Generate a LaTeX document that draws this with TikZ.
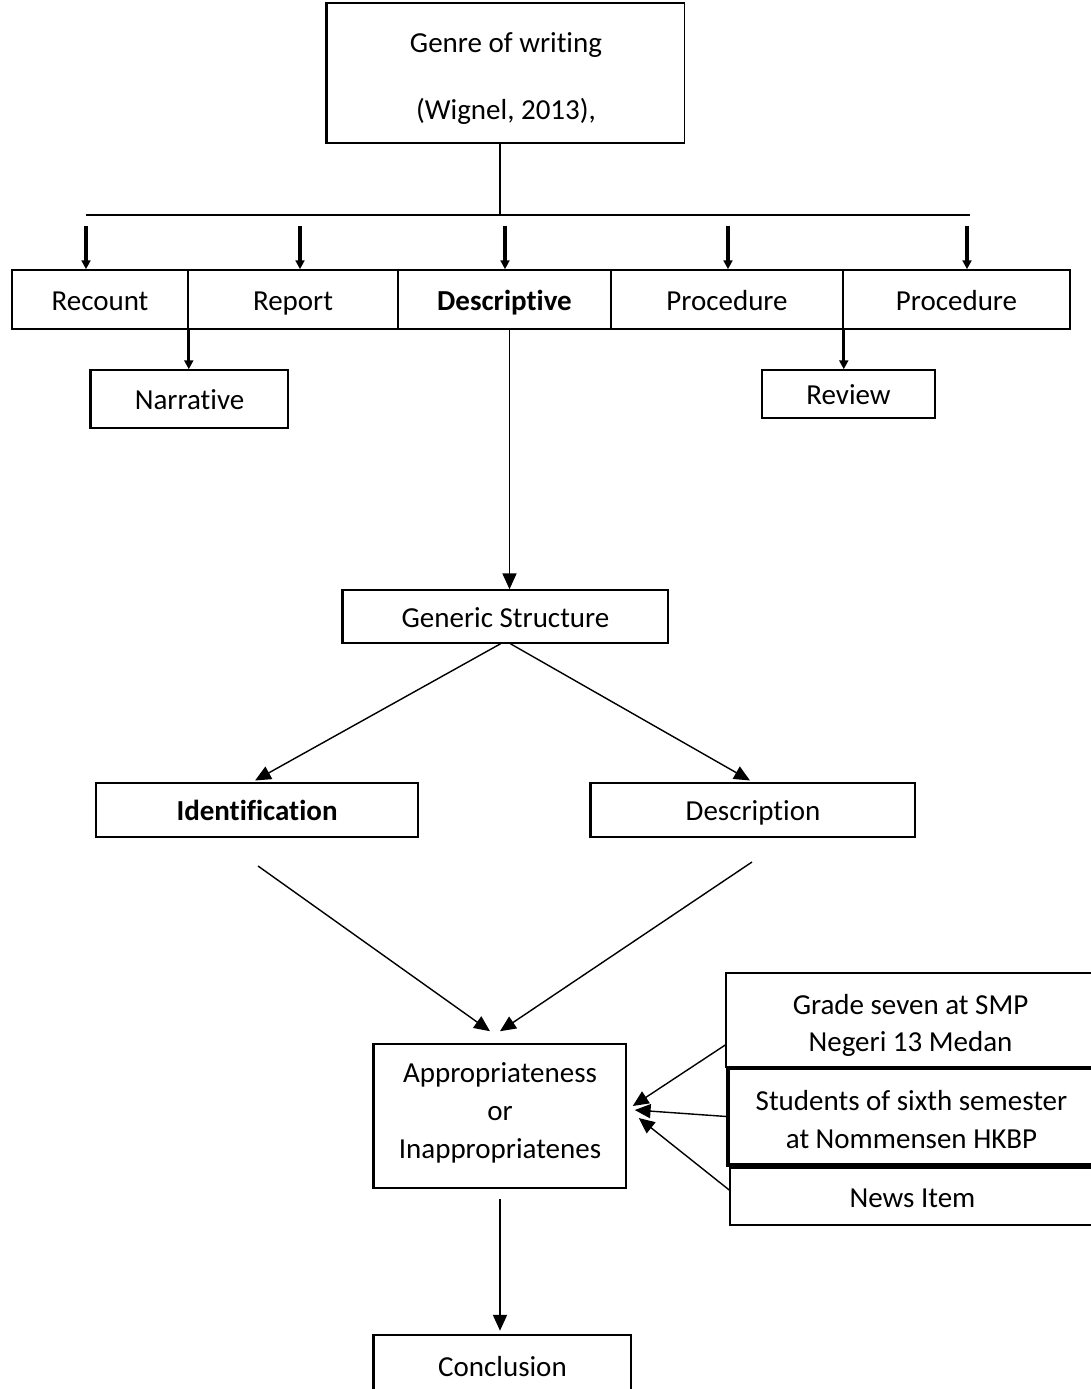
\documentclass[tikz,border=0pt]{standalone}
\usepackage{fontspec}
\setmainfont{Carlito}[Ligatures=NoCommon]
\usetikzlibrary{arrows.meta}

\newcommand{\lowtext}[1]{\raisebox{-0.11cm}[\height][\depth]{\begin{tabular}{@{}c@{}}#1\end{tabular}}}

\tikzset{
  box/.style={draw, line width=0.9pt, inner sep=0pt, align=center,
    font=\fontsize{16.5}{21.5}\selectfont,
    execute at begin node={\rule[-6.45pt]{0pt}{24.9pt}}},
  heavy/.style={line width=1.8pt},
  arr/.style={-{Triangle[width=8pt,length=9pt]}, line width=0.8pt},
  tick/.style={-{Triangle[width=5pt,length=5pt]}, line width=1.8pt},
}

\begin{document}
\begin{tikzpicture}[x=0.02cm,y=-0.02cm]
\useasboundingbox (0,0) rectangle (1090,1389);

% top
\node[box, minimum width=7.14cm, minimum height=2.8cm] (genre) at (506,73)
  {\lowtext{Genre of writing\\[0.6cm](Wignel, 2013),}};
\coordinate (barL) at (86,215);
\coordinate (barR) at (970,215);

% genres
\node[box, minimum width=3.52cm, minimum height=1.18cm] (recount) at (100,299.5) {Recount};
\node[box, minimum width=4.2cm, minimum height=1.18cm] (report) at (293,299.5) {Report};
\node[box, minimum width=4.26cm, minimum height=1.18cm] (descr) at (504.5,299.5) {\textbf{Descriptive}};
\node[box, minimum width=4.64cm, minimum height=1.18cm] (proc1) at (727,299.5) {Procedure};
\node[box, minimum width=4.54cm, minimum height=1.18cm] (proc2) at (956.5,299.5) {Procedure};
\node[box, minimum width=3.94cm, minimum height=1.16cm] (narrative) at (189.5,399) {Narrative};
\node[box, minimum width=3.46cm, minimum height=0.96cm] (review) at (848.5,394) {Review};

% structure
\node[box, minimum width=6.5cm, minimum height=1.06cm] (generic) at (505.5,616.5) {Generic Structure};
\node[box, minimum width=6.44cm, minimum height=1.08cm] (ident) at (257,810) {\textbf{Identification}};
\node[box, minimum width=6.48cm, minimum height=1.08cm] (descrip) at (753,810) {Description};
\coordinate (identout) at (258,866);
\coordinate (descout) at (752,862);

% result
\node[box, minimum width=5.04cm, minimum height=2.88cm] (approp) at (500,1116)
  {Appropriateness\\or\\Inappropriatenes};
\node[box, minimum width=7.38cm, minimum height=1.88cm] (grade) at (910.5,1020)
  {\lowtext{Grade seven at SMP\\Negeri 13 Medan}};
\node[box, heavy, minimum width=7.34cm, minimum height=1.94cm] (students) at (911.5,1116.5)
  {\lowtext{Students of sixth semester\\at Nommensen HKBP}};
\node[box, minimum width=7.3cm, minimum height=1.14cm] (news) at (912.5,1196.5) {News Item};
\node[box, minimum width=5.14cm, minimum height=1.24cm] (concl) at (502.5,1366) {Conclusion};

% heavier left edges
\foreach \n in {genre,generic,descrip,approp,narrative,concl}
  \draw[heavy] (\n.north west) -- (\n.south west);

% lines
\draw[line width=0.9pt] ([xshift=-0.12cm]genre.south) -- ([xshift=-0.12cm]genre.south |- barL);
\draw[line width=0.9pt] (barL) -- (barR);
\foreach \n/\x in {recount/86,report/300,descr/505,proc1/728,proc2/967}
  \draw[tick] (\x,226) -- (\x,226 |- \n.north);
\draw[tick] (recount.south east) -- (recount.south east |- narrative.north);
\draw[tick] (proc1.south east) -- (proc1.south east |- review.north);
\draw[arr] ([xshift=0.1cm]descr.south) -- ([xshift=0.1cm]descr.south |- generic.north);
\draw[arr, shorten >=2pt] ([xshift=-0.1cm]generic.south) -- ([xshift=-0.1cm]ident.north);
\draw[arr, shorten >=2pt] ([xshift=0.1cm]generic.south) -- (descrip.north);
\draw[arr] (identout) -- ([xshift=-0.2cm,yshift=0.24cm]approp.north);
\draw[arr] (descout) -- ([yshift=0.24cm]approp.north);
\draw[arr] ([yshift=-0.5cm]grade.west) -- ([xshift=0.12cm,yshift=0.2cm]approp.east);
\draw[arr] (students.west) -- ([xshift=0.16cm,yshift=0.12cm]approp.east);
\draw[arr] ([yshift=0.13cm]news.west) -- ([xshift=0.24cm,yshift=-0.04cm]approp.east);
\draw[arr, shorten >=2pt] ([yshift=-0.2cm]approp.south) -- (approp.south |- concl.north);
\end{tikzpicture}
\end{document}
